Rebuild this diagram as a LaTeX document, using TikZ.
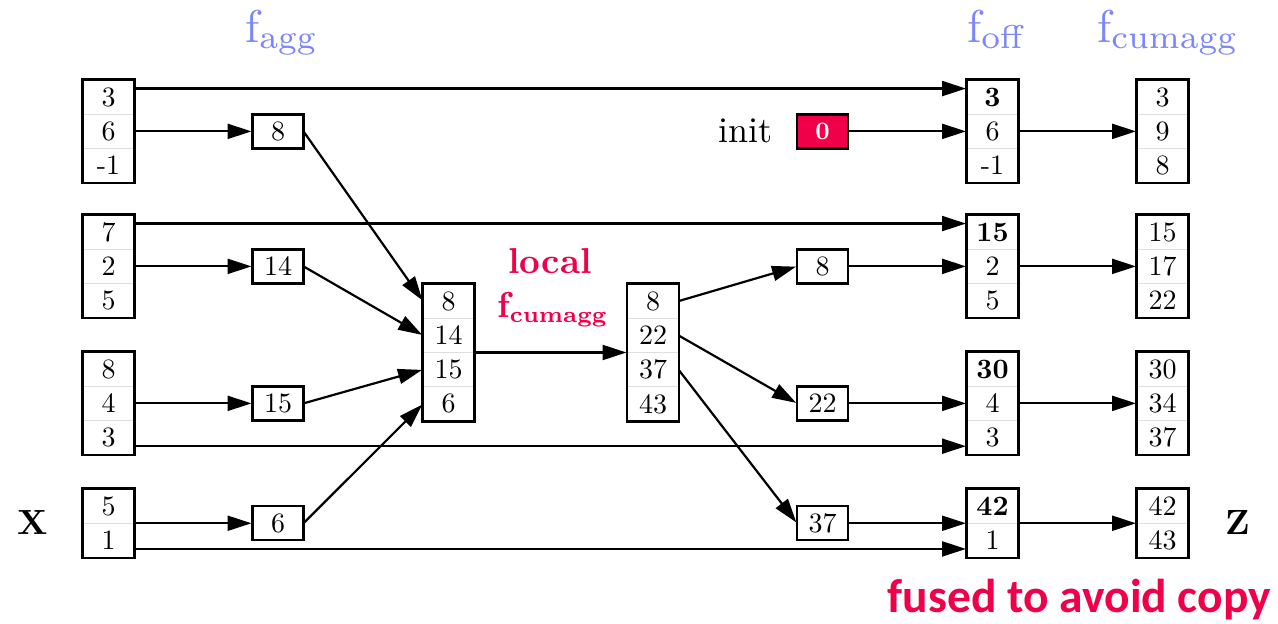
\documentclass[tikz,border=0pt]{standalone}
\usepackage{fontspec}
\setmainfont{lmroman10-regular.otf}[BoldFont=lmroman10-bold.otf, ItalicFont=lmroman10-italic.otf]
\newfontfamily\notefont{Carlito}
\newfontfamily\subrm{lmroman7-regular.otf}
\newfontfamily\subbf{lmroman7-bold.otf}
\usetikzlibrary{arrows.meta,fit,calc}
\definecolor{fnblue}{RGB}{122,134,250}
\definecolor{hot}{RGB}{240,0,72}
\newcommand\cellfont{\fontsize{28}{30}\selectfont}
% function name with a subscript set in the 7pt design
\newcommand\fname[1]{{\fontsize{46}{50}\selectfont f}\raisebox{-6pt}{\subrm\fontsize{33}{35}\selectfont #1}}
\newcommand\fnamebf[1]{{\bfseries\fontsize{36}{38}\selectfont f}\raisebox{-5pt}{\subbf\fontsize{22.5}{24}\selectfont #1}}
% a column of cells #1 = name prefix, #2 = x, #3 = top y, #4 = entries
\newcommand\stack[4]{\foreach \v [count=\i] in {#4} {\node[cell] (#1\i) at (#2,{#3+34.25*\i-17.125}) {\v};}}
\begin{document}
\begin{tikzpicture}[x=1pt,y=-1pt,
  cell/.style={draw=black!13, line width=0.8pt, outer sep=0pt, minimum width=51pt, minimum height=34.25pt, inner sep=0pt, font=\cellfont},
  frame/.style={draw=black, line width=2.4pt, inner sep=0.4pt},
  valbox/.style={draw=black, line width=2.4pt, outer sep=0pt, minimum width=51pt, minimum height=34pt, inner sep=0pt, font=\cellfont},
  arr/.style={line width=2.2pt, -{Triangle[length=24pt,width=15pt]}, shorten >=1pt, shorten <=1pt},
  fnlabel/.style={text=fnblue, anchor=base west, inner sep=0pt},
]
\useasboundingbox (0,0) rectangle (1278,624);

% input X
\stack{xA}{108.5}{80}{3,6,-1}
\stack{xB}{108.5}{215}{7,2,5}
\stack{xC}{108.5}{352}{8,4,3}
\stack{xD}{108.5}{489}{5,1}
% offsets
\stack{oA}{992.5}{80}{\textbf{3},6,-1}
\stack{oB}{992.5}{215}{\textbf{15},2,5}
\stack{oC}{992.5}{352}{\textbf{30},4,3}
\stack{oD}{992.5}{489}{\textbf{42},1}
% result Z
\stack{zA}{1162.5}{80}{3,9,8}
\stack{zB}{1162.5}{215}{15,17,22}
\stack{zC}{1162.5}{352}{30,34,37}
\stack{zD}{1162.5}{489}{42,43}
% block aggregates and their local scan
\stack{m}{448.5}{284}{8,14,15,6}
\stack{s}{653}{284}{8,22,37,43}

\foreach \g/\n in {xA/3,xB/3,xC/3,xD/2,oA/3,oB/3,oC/3,oD/2,zA/3,zB/3,zC/3,zD/2,m/4,s/4}
  \node[frame, fit=(\g1)(\g\n)] (\g) {};

% per-block values
\node[valbox] (a1) at (278,131.375) {8};
\node[valbox] (a2) at (278,266.375) {14};
\node[valbox] (a3) at (278,403.375) {15};
\node[valbox] (a4) at (278,523.25) {6};
\node[valbox] (b1) at (822.5,266.375) {8};
\node[valbox] (b2) at (822.5,403.375) {22};
\node[valbox] (b3) at (822.5,523.25) {37};
\node[valbox, fill=hot, text=white, font=\bfseries\fontsize{25}{27}\selectfont] (init) at (822.5,131.375) {0};

% labels
\node[fnlabel] (lagg) at (245,42) {\fname{agg}};
\node[fnlabel] (loff) at (967,42) {\fname{off}};
\node[fnlabel] (lcum) at (1097,42) {\fname{cumagg}};
\node[text=hot, anchor=base, inner sep=0pt, font=\bfseries\fontsize{36}{40}\selectfont] (llocal) at (550,273) {local};
\node[text=hot, anchor=base west, inner sep=0pt] (llcum) at (497,317) {\fnamebf{cumagg}};
\node[anchor=base west, inner sep=0pt, font=\fontsize{36}{40}\selectfont] (linit) at (718,142) {init};
\node[anchor=base west, inner sep=0pt, font=\bfseries\fontsize{35}{40}\selectfont] (lx) at (17,534) {X};
\node[anchor=base west, inner sep=0pt, font=\bfseries\fontsize{35}{40}\selectfont] (lz) at (1225,534) {Z};
\node[anchor=base east, inner sep=0pt, text=hot, font=\notefont\bfseries\fontsize{47.5}{50}\selectfont] (lfuse) at (1271,612) {fused to avoid copy};

% block 1
\draw[arr] ($(xA1.east)!0.5!(xA1.north east)$) -- ($(oA1.west)!0.5!(oA1.north west)$);
\draw[arr] (xA2.east) -- (a1.west);
\draw[arr] (init.east) -- (oA2.west);
\draw[arr] (oA2.east) -- (zA2.west);
% block 2
\draw[arr] ($(xB1.east)!0.5!(xB1.north east)$) -- ($(oB1.west)!0.5!(oB1.north west)$);
\draw[arr] (xB2.east) -- (a2.west);
\draw[arr] (b1.east) -- (oB2.west);
\draw[arr] (oB2.east) -- (zB2.west);
% block 3
\draw[arr] (xC2.east) -- (a3.west);
\draw[arr] ($(xC3.east)!0.5!(xC3.south east)$) -- ($(oC3.west)!0.5!(oC3.south west)$);
\draw[arr] (b2.east) -- (oC2.west);
\draw[arr] (oC2.east) -- (zC2.west);
% block 4
\draw[arr] (xD1.south east) -- (a4.west);
\draw[arr] ($(xD2.east)!0.5!(xD2.south east)$) -- ($(oD2.west)!0.5!(oD2.south west)$);
\draw[arr] (b3.east) -- (oD1.south west);
\draw[arr] (oD1.south east) -- (zD1.south west);
% gather, local scan, scatter
\draw[arr] (a1.east) -- (m1.west);
\draw[arr] (a2.east) -- (m2.west);
\draw[arr] (a3.east) -- (m3.west);
\draw[arr] (a4.east) -- (m4.west);
\draw[arr] (m2.south east) -- (s2.south west);
\draw[arr] (s1.east) -- (b1.west);
\draw[arr] (s2.east) -- (b2.west);
\draw[arr] (s3.east) -- (b3.west);
\end{tikzpicture}
\end{document}
